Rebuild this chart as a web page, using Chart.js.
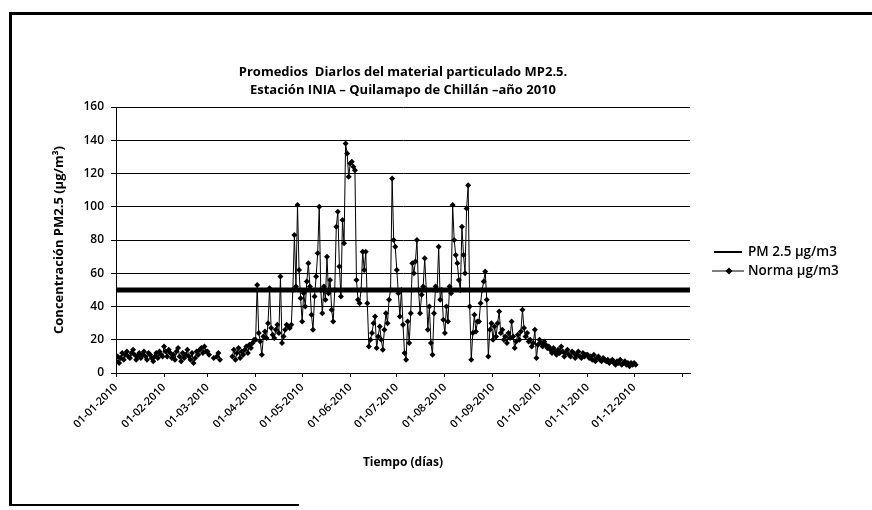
<!DOCTYPE html>
<html><head><meta charset="utf-8">
<script src="https://cdn.jsdelivr.net/npm/chart.js@4.4.1/dist/chart.umd.min.js"></script>
<style>
html,body{margin:0;padding:0;background:#fff;}
#wrap{position:relative;width:872px;height:510px;overflow:hidden;}
canvas{position:absolute;left:0;top:0;}
.fr{position:absolute;background:#000;pointer-events:none;}
</style></head><body>
<div id="wrap">
<canvas id="c" width="872" height="510"></canvas>
<div class="fr" style="left:9px;top:12px;width:863px;height:3px"></div>
<div class="fr" style="left:9px;top:12px;width:3px;height:494px"></div>
<div class="fr" style="left:9px;top:504px;width:290px;height:2px"></div>
</div>
<script>
// ---- text ----
const titleLines = ['Promedios  Diarlos del material particulado MP2.5.', 'Estación INIA – Quilamapo de Chillán –año 2010'];
const yTitle = 'Concentración PM2.5 (µg/m³)';
const xTitle = 'Tiempo (días)';
const legendLabels = ['PM 2.5 µg/m3', 'Norma µg/m3'];
const tickLabels = ['01-01-2010','01-02-2010','01-03-2010','01-04-2010','01-05-2010','01-06-2010','01-07-2010','01-08-2010','01-09-2010','01-10-2010','01-11-2010','01-12-2010'];
const monthStartDays = [0,31,59,90,120,151,181,212,243,273,304,334,365];
const yTicks = [0,20,40,60,80,100,120,140,160];

// ---- daily PM2.5 values (µg/m3), one array per month ----
const jan = [7,10,6,9,12,8,11,13,10,9,12,14,11,8,10,12,9,11,13,10,8,12,11,9,7,10,12,9,13,11,10];
const feb = [16,13,10,14,12,9,11,8,13,15,10,7,12,9,11,14,10,8,12,6,9,13,11,14,15,12,16,13];
const mar = [13,11,null,null,9,null,10,12,8,null,null,null,null,null,null,null,10,14,8,12,15,9,13,11,14,16,12,17,15,18,20];
const apr = [20,53,24,19,11,22,25,21,30,51,27,23,21,26,29,24,58,18,22,26,29,28,27,29,50,83,52,101,62,45];
const may = [31,48,40,55,66,52,35,26,46,58,72,100,50,36,52,44,70,48,56,38,31,50,88,97,64,46,92,78,138,132,118];
const jun = [126,127,124,122,56,44,42,50,73,62,73,42,16,20,24,30,34,15,22,28,20,14,26,36,30,44,50,117,80,76];
const jul = [62,48,34,50,29,12,8,31,18,36,66,60,67,80,50,36,47,52,69,50,26,40,18,11,36,52,50,76,44,50,32];
const aug = [24,40,31,52,48,101,80,71,66,56,50,88,71,60,99,113,40,8,24,35,25,31,31,42,50,55,61,44,10,26,30];
const sep = [20,28,22,30,37,24,26,20,22,18,24,21,31,22,15,19,23,20,25,38,27,22,24,19,20,16,18,26,9,17];
const oct = [20,18,16,19,17,15,16,14,12,15,13,11,14,12,16,13,10,12,14,11,10,13,12,9,11,13,10,9,12,10,11];
const nov = [11,9,10,8,11,7,9,10,8,7,9,8,7,8,6,7,8,6,5,7,6,8,5,6,7,5,6,4,6,5];
const dec = [6,5];

// ---- norm (µg/m3) ----
const normaDays = [0, 370];
const normaValues = [50, 50];

const months = [jan,feb,mar,apr,may,jun,jul,aug,sep,oct,nov,dec];
const pmPoints = [];
months.forEach((arr, m) => arr.forEach((v, i) => pmPoints.push({x: monthStartDays[m] + i, y: v})));
const normaPoints = normaDays.map((d, i) => ({x: d, y: normaValues[i]}));

const FONT = "'Open Sans', 'Liberation Sans', sans-serif";

const legendPlugin = {
  id: 'customLegend',
  afterDraw(chart) {
    const ctx = chart.ctx;
    ctx.save();
    ctx.fillStyle = '#000';
    ctx.strokeStyle = '#000';
    ctx.font = '600 13.5px ' + FONT;
    ctx.textBaseline = 'middle';
    ctx.textAlign = 'left';
    // entry 1: plain line
    let y = 252;
    ctx.lineWidth = 2;
    ctx.beginPath(); ctx.moveTo(714, y); ctx.lineTo(742, y); ctx.stroke();
    ctx.fillText(legendLabels[0], 748, y);
    // entry 2: line with diamond marker
    y = 271;
    ctx.lineWidth = 1;
    ctx.beginPath(); ctx.moveTo(712, y); ctx.lineTo(744, y); ctx.stroke();
    ctx.beginPath();
    ctx.moveTo(729, y - 3.5); ctx.lineTo(732.5, y); ctx.lineTo(729, y + 3.5); ctx.lineTo(725.5, y); ctx.closePath();
    ctx.fill();
    ctx.fillText(legendLabels[1], 748, y);
    ctx.restore();
  }
};

new Chart(document.getElementById('c'), {
  type: 'line',
  data: {
    datasets: [
      {
        label: 'PM 2.5 µg/m3',
        data: pmPoints,
        borderColor: '#000',
        backgroundColor: '#000',
        borderWidth: 1,
        pointStyle: 'rectRot',
        pointRadius: 3,
        pointBorderWidth: 0,
        pointBackgroundColor: '#000',
        tension: 0,
        spanGaps: false
      },
      {
        label: 'Norma µg/m3',
        data: normaPoints,
        borderColor: '#000',
        borderWidth: 5,
        pointRadius: 0,
        tension: 0
      }
    ]
  },
  options: {
    responsive: false,
    animation: false,
    devicePixelRatio: 1,
    layout: { padding: { left: 0, right: 182, top: 0, bottom: 0 } },
    plugins: {
      legend: { display: false },
      tooltip: { enabled: false },
      title: {
        display: true,
        text: titleLines,
        fullSize: false,
        color: '#000',
        font: { family: FONT, size: 13, weight: '700', lineHeight: 1.4 },
        padding: { top: 63, bottom: 7.6 }
      }
    },
    scales: {
      x: {
        type: 'linear',
        min: 0,
        max: 370,
        afterBuildTicks: (s) => { s.ticks = monthStartDays.map(v => ({ value: v })); },
        afterFit: (s) => { s.height = 137; },
        ticks: {
          autoSkip: false,
          minRotation: 45,
          maxRotation: 45,
          padding: 4,
          color: '#000',
          font: { family: FONT, size: 11, weight: '600' },
          callback: (v, i) => (tickLabels[i] !== undefined ? tickLabels[i] : '')
        },
        grid: { drawOnChartArea: false, drawTicks: true, tickLength: 4, color: '#000' },
        border: { display: true, color: '#000', width: 1 },
        title: {
          display: true, text: xTitle, color: '#000',
          font: { family: FONT, size: 12, weight: '700' },
          padding: { top: 0, bottom: 40 }
        }
      },
      y: {
        min: 0,
        max: 160,
        afterBuildTicks: (s) => { s.ticks = yTicks.map(v => ({ value: v })); },
        afterFit: (s) => { s.width = 116; },
        ticks: { color: '#000', padding: 7, font: { family: FONT, size: 12, weight: '600' } },
        grid: { color: '#000', lineWidth: 1, tickLength: 5 },
        border: { display: true, color: '#000', width: 1 },
        title: {
          display: true, text: yTitle, color: '#000',
          font: { family: FONT, size: 13, weight: '700' },
          padding: { top: 51, bottom: 0 }
        }
      }
    }
  },
  plugins: [legendPlugin]
});
</script>
</body></html>
